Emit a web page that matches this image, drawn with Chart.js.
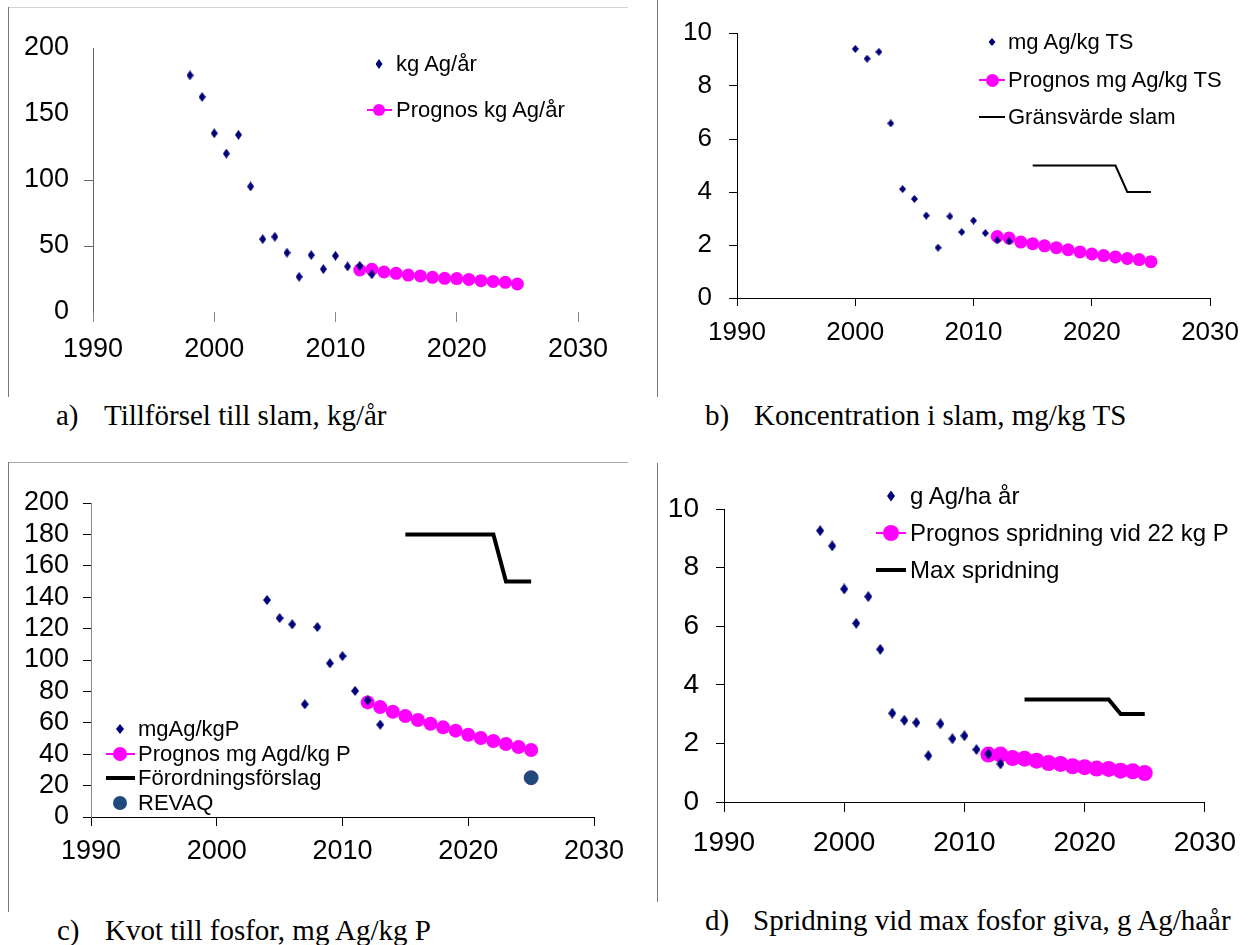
<!DOCTYPE html>
<html>
<head>
<meta charset="utf-8">
<script src="https://cdn.jsdelivr.net/npm/chart.js@4.4.1/dist/chart.umd.min.js"></script>
<style>
  body { margin: 0; background: #fff; }
  #page { position: relative; width: 1250px; height: 945px; overflow: hidden; font-family: "Liberation Sans", Arial, sans-serif; }
  canvas { position: absolute; left: 0; top: 0; pointer-events: none; }
  .frame { position: absolute; }
  .cap { position: absolute; font-family: "Liberation Serif", "Times New Roman", serif; font-size: 29px; line-height: 34px; white-space: nowrap; color: #000; }
  .lg { position: absolute; white-space: nowrap; line-height: 1.2; color: #000; transform: translateY(-50%); }
  .mk { position: absolute; }
</style>
</head>
<body>
<div id="page">
  <div class="frame" style="left:8px;top:7px;width:620px;border-top:1.5px solid #d4d4d4;"></div>
  <div class="frame" style="left:8px;top:7px;height:390px;border-left:1px solid #777;"></div>
  <div class="frame" style="left:657px;top:0;height:397px;border-left:1px solid #777;"></div>
  <div class="frame" style="left:8px;top:462px;width:620px;border-top:1.5px solid #aaa;"></div>
  <div class="frame" style="left:8px;top:462px;height:450px;border-left:1px solid #777;"></div>
  <div class="frame" style="left:657px;top:463px;height:439px;border-left:1px solid #777;"></div>

  <div class="cap" style="left:56px;top:398px;">a)</div>
  <div class="cap" style="left:104px;top:398px;">Tillförsel till slam, kg/år</div>
  <div class="cap" style="left:705px;top:398px;">b)</div>
  <div class="cap" style="left:754px;top:398px;">Koncentration i slam, mg/kg TS</div>
  <div class="cap" style="left:57px;top:913px;">c)</div>
  <div class="cap" style="left:105px;top:913px;">Kvot till fosfor, mg Ag/kg P</div>
  <div class="cap" style="left:705px;top:903px;">d)</div>
  <div class="cap" style="left:753px;top:903px;">Spridning vid max fosfor giva, g Ag/haår</div>

  <canvas id="chartA" width="1250" height="945"></canvas>
  <canvas id="chartB" width="1250" height="945"></canvas>
  <canvas id="chartC" width="1250" height="945"></canvas>
  <canvas id="chartD" width="1250" height="945"></canvas>
</div>
<script>
const W = 1250, H = 945;
const xTicks = [1990, 2000, 2010, 2020, 2030];

// a) Tillförsel till slam
const aYears = [1998, 1999, 2000, 2001, 2002, 2003, 2004, 2005, 2006, 2007, 2008, 2009, 2010, 2011, 2012, 2013];
const aValues = [179.3, 162.9, 135.4, 120.0, 134.2, 95.1, 55.2, 57.0, 44.9, 26.7, 43.1, 32.5, 42.6, 34.5, 35.0, 28.5];
const aProgYears = [2012, 2013, 2014, 2015, 2016, 2017, 2018, 2019, 2020, 2021, 2022, 2023, 2024, 2025];
const aProgValues = [31.8, 32.3, 30.3, 29.3, 28.0, 27.3, 26.3, 25.5, 25.3, 24.7, 23.7, 23.2, 22.5, 21.2];
const aYTicks = [0, 50, 100, 150, 200];

// b) Koncentration i slam
const bYears = [2000, 2001, 2002, 2003, 2004, 2005, 2006, 2007, 2008, 2009, 2010, 2011, 2012, 2013];
const bValues = [9.40, 9.03, 9.29, 6.59, 4.11, 3.74, 3.11, 1.90, 3.08, 2.49, 2.92, 2.45, 2.17, 2.14];
const bProgYears = [2012, 2013, 2014, 2015, 2016, 2017, 2018, 2019, 2020, 2021, 2022, 2023, 2024, 2025];
const bProgValues = [2.32, 2.26, 2.11, 2.05, 1.97, 1.90, 1.82, 1.74, 1.66, 1.60, 1.55, 1.49, 1.45, 1.37];
const bLimitYears = [2015, 2016, 2017, 2018, 2019, 2020, 2021, 2022, 2023, 2024, 2025];
const bLimitValues = [5, 5, 5, 5, 5, 5, 5, 5, 4, 4, 4];
const bYTicks = [0, 2, 4, 6, 8, 10];

// c) Kvot till fosfor
const cYears = [2004, 2005, 2006, 2007, 2008, 2009, 2010, 2011, 2012, 2013];
const cValues = [138.2, 126.7, 122.7, 71.8, 121.0, 97.9, 102.5, 80.3, 74.3, 58.8];
const cProgYears = [2012, 2013, 2014, 2015, 2016, 2017, 2018, 2019, 2020, 2021, 2022, 2023, 2024, 2025];
const cProgValues = [73.0, 70.0, 67.0, 64.3, 61.8, 59.4, 57.1, 55.0, 52.4, 50.3, 48.4, 46.5, 44.6, 42.7];
const cLimitYears = [2015, 2016, 2017, 2018, 2019, 2020, 2021, 2022, 2023, 2024, 2025];
const cLimitValues = [180, 180, 180, 180, 180, 180, 180, 180, 150, 150, 150];
const cRevaqYears = [2025];
const cRevaqValues = [25];
const cYTicks = [0, 20, 40, 60, 80, 100, 120, 140, 160, 180, 200];

// d) Spridning vid max fosforgiva
const dYears = [1998, 1999, 2000, 2001, 2002, 2003, 2004, 2005, 2006, 2007, 2008, 2009, 2010, 2011, 2012, 2013];
const dValues = [9.26, 8.74, 7.27, 6.10, 7.01, 5.21, 3.03, 2.79, 2.71, 1.58, 2.67, 2.16, 2.26, 1.79, 1.64, 1.30];
const dProgYears = [2012, 2013, 2014, 2015, 2016, 2017, 2018, 2019, 2020, 2021, 2022, 2023, 2024, 2025];
const dProgValues = [1.62, 1.62, 1.50, 1.48, 1.41, 1.33, 1.30, 1.22, 1.19, 1.14, 1.13, 1.07, 1.05, 0.99];
const dLimitYears = [2015, 2016, 2017, 2018, 2019, 2020, 2021, 2022, 2023, 2024, 2025];
const dLimitValues = [3.5, 3.5, 3.5, 3.5, 3.5, 3.5, 3.5, 3.5, 3.0, 3.0, 3.0];
const dYTicks = [0, 2, 4, 6, 8, 10];

const NAVY = '#00007a';
const MAGENTA = '#ff00ff';
const page = document.getElementById('page');

function pts(xs, ys) { return xs.map((x, i) => ({ x: x, y: ys[i] })); }

function diamond(w, h, color) {
  const c = document.createElement('canvas');
  c.width = w; c.height = h;
  const g = c.getContext('2d');
  g.fillStyle = color;
  g.beginPath();
  g.moveTo(w / 2, 0); g.lineTo(w, h / 2); g.lineTo(w / 2, h); g.lineTo(0, h / 2);
  g.closePath(); g.fill();
  return c;
}

function measured(label, xs, ys, w, h) {
  return { label, data: pts(xs, ys), showLine: false, pointStyle: diamond(w, h, NAVY), pointRadius: 5,
    borderColor: NAVY, backgroundColor: NAVY, clip: false, marker: 'diamond', mw: w, mh: h };
}
function prognos(label, xs, ys, r) {
  return { label, data: pts(xs, ys), borderColor: MAGENTA, borderWidth: 1.5, pointRadius: r,
    pointBackgroundColor: MAGENTA, pointBorderColor: MAGENTA, pointBorderWidth: 0, clip: false, marker: 'lineCircle', mr: r };
}
function limit(label, xs, ys, w) {
  return { label, data: pts(xs, ys), borderColor: '#000', borderWidth: w, pointRadius: 0, clip: false,
    marker: 'line', lw: w };
}

function makePanel(id, box, yMax, yTicks, ax, datasets) {
  const font = { family: '"Liberation Sans", Arial, sans-serif', size: ax.fontSize || 26 };
  return new Chart(document.getElementById(id), {
    type: 'line',
    data: { datasets },
    options: {
      responsive: false, animation: false, events: [],
      layout: { padding: { left: 0, top: box.top, right: W - box.right, bottom: 0 } },
      plugins: { legend: { display: false }, tooltip: { enabled: false } },
      scales: {
        x: {
          type: 'linear', min: 1990, max: 2030,
          afterBuildTicks: s => { s.ticks = xTicks.map(v => ({ value: v })); },
          afterFit: s => { s.height = H - box.bottom; },
          ticks: { font, color: '#000', padding: ax.xPad, maxRotation: 0, autoSkip: false, callback: v => String(v) },
          grid: { drawOnChartArea: false, tickLength: ax.xTick, color: ax.xTickColor || '#000', lineWidth: 1 },
          border: { display: ax.xBorder, color: '#000', width: 1 }
        },
        y: {
          type: 'linear', min: 0, max: yMax,
          afterBuildTicks: s => { s.ticks = yTicks.map(v => ({ value: v })); },
          afterFit: s => { s.width = box.left; },
          ticks: { font, color: '#000', padding: ax.yPad, autoSkip: false },
          grid: { drawOnChartArea: false, tickLength: ax.yTick, color: ax.yTickColor || '#000', lineWidth: 1 },
          border: { color: ax.yAxisColor || '#000', width: 1 }
        }
      }
    }
  });
}

function addLegend(chart, lg) {
  chart.data.datasets.forEach((ds, i) => {
    const y = lg.rows[i];
    if (ds.marker === 'diamond') {
      const m = document.createElement('div');
      m.className = 'mk';
      m.style.cssText = `left:${lg.mx - ds.mw / 2}px;top:${y - ds.mh / 2}px;width:${ds.mw}px;height:${ds.mh}px;background:${NAVY};clip-path:polygon(50% 0,100% 50%,50% 100%,0 50%);`;
      page.appendChild(m);
    } else if (ds.marker === 'lineCircle' || ds.marker === 'line') {
      const lw = ds.marker === 'line' ? ds.lw : 1.5;
      const l = document.createElement('div');
      l.className = 'mk';
      l.style.cssText = `left:${lg.l0}px;top:${y - lw / 2}px;width:${lg.l1 - lg.l0}px;height:${lw}px;background:${ds.borderColor};`;
      page.appendChild(l);
      if (ds.marker === 'lineCircle') {
        const c = document.createElement('div');
        c.className = 'mk';
        const r = lg.cr;
        c.style.cssText = `left:${lg.mx - r}px;top:${y - r}px;width:${2 * r}px;height:${2 * r}px;border-radius:50%;background:${MAGENTA};`;
        page.appendChild(c);
      }
    } else if (ds.marker === 'circle') {
      const c = document.createElement('div');
      c.className = 'mk';
      const r = 7;
      c.style.cssText = `left:${lg.mx - r}px;top:${y - r}px;width:${2 * r}px;height:${2 * r}px;border-radius:50%;background:#1f497d;`;
      page.appendChild(c);
    }
    const t = document.createElement('div');
    t.className = 'lg';
    t.style.cssText = `left:${lg.tx}px;top:${y}px;font-size:${lg.size}px;`;
    t.textContent = ds.label;
    page.appendChild(t);
  });
}

const chartA = makePanel('chartA', { left: 93, right: 578, top: 48, bottom: 312 }, 200, aYTicks,
  { fontSize: 27, xPad: 11, xTick: 10, xBorder: false, yPad: 15, yTick: 9, yAxisColor: '#666',
    yTickColor: c => (c.tick && (c.tick.value === 50 || c.tick.value === 100)) ? '#666' : 'rgba(0,0,0,0)', xTickColor: '#888' },
  [measured('kg Ag/år', aYears, aValues, 7, 10), prognos('Prognos kg Ag/år', aProgYears, aProgValues, 6.5)]);
addLegend(chartA, { rows: [64, 110], mx: 379, l0: 367, l1: 392, tx: 396, size: 22, cr: 6 });

const chartB = makePanel('chartB', { left: 737, right: 1214, top: 33, bottom: 298 }, 10, bYTicks,
  { fontSize: 26, xPad: 11, xTick: 8, xBorder: true, yPad: 17, yTick: 8 },
  [measured('mg Ag/kg TS', bYears, bValues, 7, 8), prognos('Prognos mg Ag/kg TS', bProgYears, bProgValues, 6.5),
   limit('Gränsvärde slam', bLimitYears, bLimitValues, 2)]);
addLegend(chartB, { rows: [42, 80, 117], mx: 992, l0: 979, l1: 1005, tx: 1008, size: 22, cr: 6.5 });

const revaq = { label: 'REVAQ', data: pts(cRevaqYears, cRevaqValues), showLine: false, pointRadius: 7,
  pointBackgroundColor: '#1f497d', pointBorderColor: '#3b3f7e', pointBorderWidth: 1, clip: false, marker: 'circle' };
const chartC = makePanel('chartC', { left: 91, right: 594, top: 503, bottom: 817 }, 200, cYTicks,
  { fontSize: 27, xPad: 9, xTick: 9, xBorder: true, yPad: 14, yTick: 8, yAxisColor: '#888' },
  [measured('mgAg/kgP', cYears, cValues, 8, 10), prognos('Prognos mg Agd/kg P', cProgYears, cProgValues, 7),
   limit('Förordningsförslag', cLimitYears, cLimitValues, 4), revaq]);
addLegend(chartC, { rows: [729, 754, 778, 803], mx: 120, l0: 106, l1: 135, tx: 138, size: 22, cr: 7 });

const chartD = makePanel('chartD', { left: 724, right: 1213, top: 509, bottom: 802 }, 10, dYTicks,
  { fontSize: 28, xPad: 14, xTick: 10, xBorder: true, yPad: 17, yTick: 8 },
  [measured('g Ag/ha år', dYears, dValues, 8, 11), prognos('Prognos spridning vid 22 kg P', dProgYears, dProgValues, 8),
   limit('Max spridning', dLimitYears, dLimitValues, 4)]);
addLegend(chartD, { rows: [496, 533, 570], mx: 891, l0: 876, l1: 906, tx: 910, size: 24, cr: 8 });
</script>
</body>
</html>
